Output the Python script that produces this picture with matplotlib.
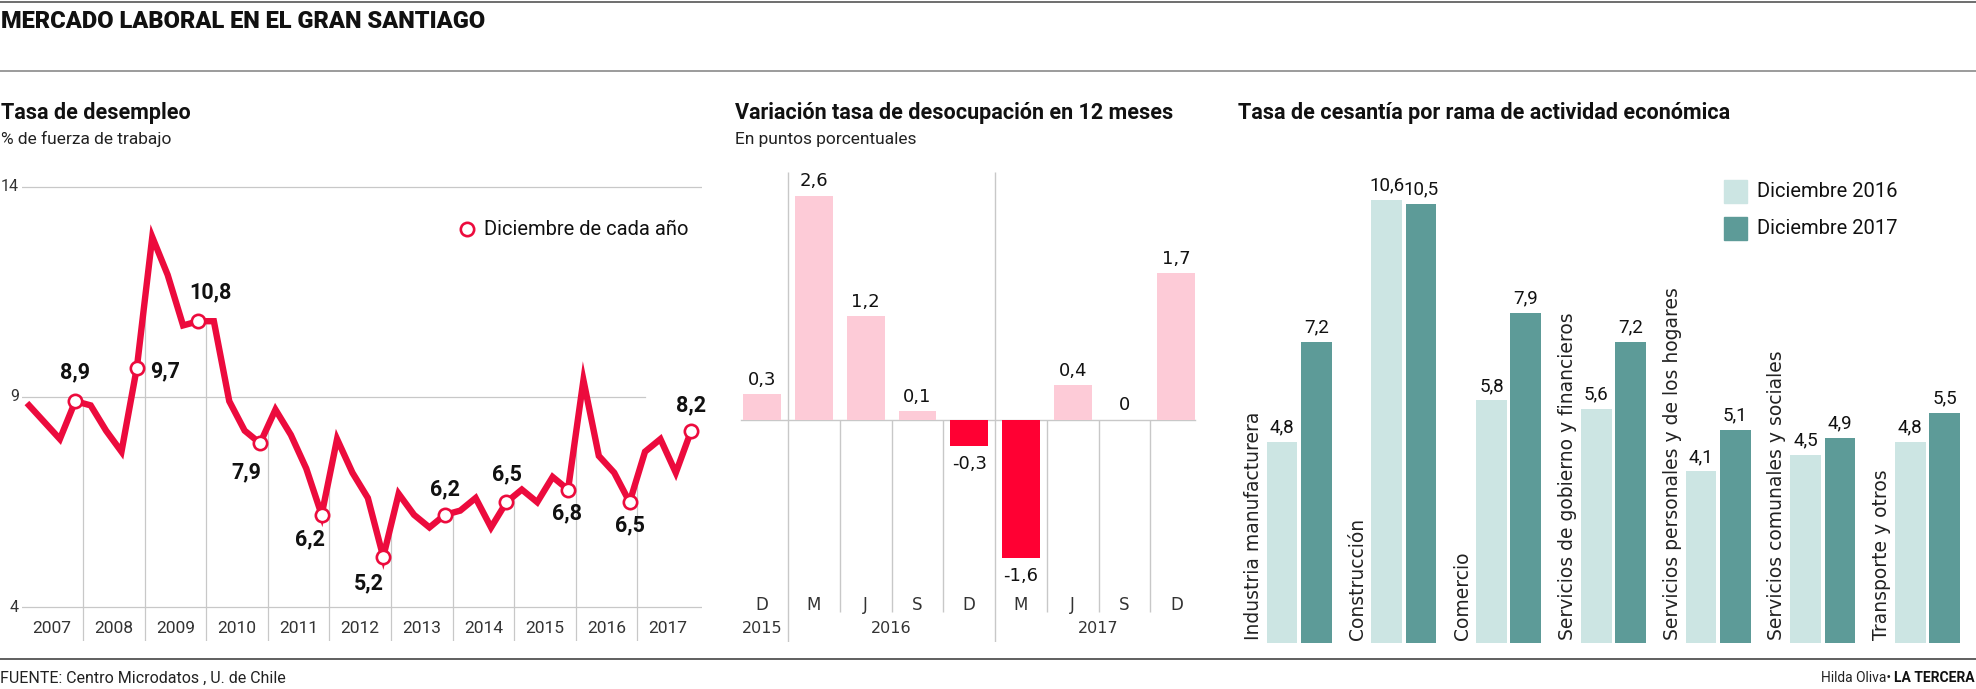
import numpy as np
import matplotlib as mpl
mpl.use('Agg')
import matplotlib.pyplot as plt
from matplotlib.lines import Line2D
from matplotlib.patches import Rectangle

plt.rcParams['font.family'] = ['Roboto', 'DejaVu Sans']

# --- data -------------------------------------------------------------
# tasa de desempleo, trimestres moviles (mar, jun, sep, dic) 2007-2017
desempleo = [8.8, 8.4, 8.0, 8.9, 8.8, 8.2, 7.7, 9.7, 12.8, 11.9, 10.7, 10.8,
             10.8, 8.9, 8.2, 7.9, 8.7, 8.1, 7.3, 6.2, 8.0, 7.2, 6.6, 5.2,
             6.7, 6.2, 5.9, 6.2, 6.3, 6.6, 5.9, 6.5, 6.8, 6.5, 7.1, 6.8,
             9.4, 7.6, 7.2, 6.5, 7.7, 8.0, 7.2, 8.2]
anios = ['2007', '2008', '2009', '2010', '2011', '2012',
         '2013', '2014', '2015', '2016', '2017']
y_ticks = [14, 9, 4]

variacion = [0.3, 2.6, 1.2, 0.1, -0.3, -1.6, 0.4, 0, 1.7]
var_meses = ['D', 'M', 'J', 'S', 'D', 'M', 'J', 'S', 'D']
var_anios = ['2015', '2016', '2017']
var_n_meses = [1, 4, 4]

ramas = ['Industria manufacturera', 'Construcción', 'Comercio',
         'Servicios de gobierno y financieros',
         'Servicios personales y de los hogares',
         'Servicios comunales y sociales', 'Transporte y otros']
dic2016 = [4.8, 10.6, 5.8, 5.6, 4.1, 4.5, 4.8]
dic2017 = [7.2, 10.5, 7.9, 7.2, 5.1, 4.9, 5.5]

# --- layout -----------------------------------------------------------
W, H = 1976, 689
RED = '#EC0B3D'
RED_BAR = '#FF0033'
PINK = '#FDCBD7'
TEAL_L = '#CCE5E3'
TEAL_D = '#5D9B98'
GRID = '#C8C8C8'
TXT = '#111111'

# label offsets (points) for the december values of the line chart
dec_offsets = [(0, 21, 'center'), (9.6, -3, 'left'), (8.6, 20.5, 'center'),
               (-10, -21, 'center'), (-8.3, -18, 'center'), (-10, -19, 'center'),
               (0, 18.5, 'center'), (0, 20.4, 'center'), (-1, -17.3, 'center'),
               (0, -16.8, 'center'), (0, 18, 'center')]


def fx(px):
    return px / W


def fy(py):
    return 1 - py / H


def coma(v):
    if v == 0:
        return '0'
    return f'{v:.1f}'.replace('.', ',')


fig = plt.figure(figsize=(W / 100, H / 100), dpi=100)

# rules
for py, col in [(1.5, '#555555'), (71, '#8a8a8a'), (658.5, '#444444')]:
    fig.add_artist(Line2D([0, 1], [fy(py), fy(py)], color=col, lw=1.2,
                          transform=fig.transFigure))

fig.text(fx(1), fy(21.7), 'MERCADO LABORAL EN EL GRAN SANTIAGO',
         fontsize=17, fontweight='black', color=TXT, va='center')

# panel headings
for px, title, sub in [(1, 'Tasa de desempleo', '% de fuerza de trabajo'),
                       (735, 'Variación tasa de desocupación en 12 meses',
                        'En puntos porcentuales'),
                       (1238, 'Tasa de cesantía por rama de actividad económica', None)]:
    fig.text(fx(px), fy(113.3), title, fontsize=15.5, fontweight='bold',
             color=TXT, va='center')
    if sub:
        fig.text(fx(px), fy(139.3), sub, fontsize=12.5, color='#222222',
                 va='center')

# --- chart 1: tasa de desempleo -------------------------------------------
ax1 = fig.add_axes([fx(22), fy(641.1), (702 - 22) / W, (641.1 - 178.1) / H])
x0, x1 = -0.46, 43.7
ymin = 3.2
ax1.set_xlim(x0, x1)
ax1.set_ylim(ymin, 14.2)
ax1.axis('off')

x = np.arange(len(desempleo))
y = np.array(desempleo)

for v in y_ticks:
    xe = 40 if v == 9 else x1
    ax1.plot([x0, xe], [v, v], color=GRID, lw=0.9, zorder=1)
    ax1.text(-0.66, v, str(v), ha='right', va='center', fontsize=11.5,
             color='#333333', clip_on=False)

bounds = np.arange(1, len(anios)) * 4 - 0.5
ax1.vlines(bounds, ymin, np.interp(bounds, x, y), color=GRID, lw=0.9, zorder=1)
for k, yr in enumerate(anios):
    ax1.text(4 * k + 1.5, 3.5, yr, ha='center', va='center', fontsize=12.5,
             color='#333333')

ax1.plot(x, y, color=RED, lw=4.6, solid_joinstyle='miter', zorder=3)
dec = x[3::4]
ax1.plot(dec, y[dec], 'o', ms=9.6, mfc='white', mec=RED, mew=1.9, zorder=4)
for i, (dx, dy, ha) in zip(dec, dec_offsets):
    ax1.annotate(coma(y[i]), (i, y[i]), xytext=(dx, dy),
                 textcoords='offset points', ha=ha, va='center',
                 fontsize=15.5, fontweight='bold', color=TXT, zorder=5)

fig.add_artist(Line2D([fx(466.5)], [fy(229.3)], marker='o', ms=9.6,
                      mfc='white', mec=RED, mew=1.9, transform=fig.transFigure))
fig.text(fx(484), fy(229.3), 'Diciembre de cada año', fontsize=14.5,
         color=TXT, va='center')

# --- chart 2: variacion 12 meses ------------------------------------------
ax2 = fig.add_axes([fx(736.3), fy(641.7), 465.9 / W, 470 / H])
ax2.set_xlim(-0.5, 8.5)
ax2.set_ylim(-2.569, 2.877)
ax2.axis('off')

xb = np.arange(len(variacion))
vals = np.array(variacion)
ax2.plot([-0.4, 8.36], [0, 0], color=GRID, lw=1, zorder=1)
ax2.bar(xb, vals, width=0.728, zorder=2,
        color=[PINK if v >= 0 else RED_BAR for v in vals])

starts = np.cumsum([0] + var_n_meses[:-1])
majors = starts[1:] - 0.5
minors = [b for b in xb[1:] - 0.5 if b not in majors]
ax2.vlines(majors, -2.569, 2.877, color=GRID, lw=1, zorder=1)
ax2.vlines(minors, -2.221, 0, color=GRID, lw=1, zorder=1)

for xi, v in zip(xb, vals):
    off = 10.5 if v >= 0 else -13
    ax2.annotate(coma(v), (xi, v), xytext=(0, off), textcoords='offset points',
                 ha='center', va='center', fontsize=13, color=TXT,
                 family='DejaVu Sans')
for xi, m in zip(xb, var_meses):
    ax2.text(xi, -2.144, m, ha='center', va='center', fontsize=12,
             color='#333333', family='DejaVu Sans')
for s, n, yr in zip(starts, var_n_meses, var_anios):
    ax2.text(s + (n - 1) / 2, -2.414, yr, ha='center', va='center',
             fontsize=11.5, color='#333333', family='DejaVu Sans')

# --- chart 3: cesantia por rama -------------------------------------------
ax3 = fig.add_axes([fx(1230), fy(642.7), 746 / W, (642.7 - 141.5) / H])
ax3.set_xlim(-0.661, 6.464)
ax3.set_ylim(0, 12)
ax3.axis('off')

g = np.arange(len(ramas))
off, bw = 0.1638, 0.2932
for bars in [ax3.bar(g - off, dic2016, bw, color=TEAL_L),
             ax3.bar(g + off, dic2017, bw, color=TEAL_D)]:
    for b in bars:
        h = b.get_height()
        ax3.annotate(coma(h), (b.get_x() + b.get_width() / 2, h),
                     xytext=(0, 10.5), textcoords='offset points',
                     ha='center', va='center', fontsize=13.5, color=TXT)
for gi, name in zip(g, ramas):
    ax3.text(gi - 0.4394, 0.07, name, rotation=90, ha='center', va='bottom',
             fontsize=13.5, color='#222222', family='DejaVu Sans')

for py, col, lab in [(191.7, TEAL_L, 'Diciembre 2016'),
                     (228.5, TEAL_D, 'Diciembre 2017')]:
    fig.add_artist(Rectangle((fx(1724), fy(py + 11.5)), 23 / W, 23 / H,
                             color=col, transform=fig.transFigure))
    fig.text(fx(1757), fy(py), lab, fontsize=14.5, color=TXT, va='center')

# --- footer -------------------------------------------------------------
fig.text(fx(0), fy(678), 'FUENTE: Centro Microdatos , U. de Chile',
         fontsize=11.5, color='#222222', va='center')
brand = fig.text(fx(1975), fy(678), 'LA TERCERA', fontsize=10,
                 fontweight='bold', color=TXT, ha='right', va='center')
ax3.annotate('Hilda Oliva•', xy=(0, 0.5), xycoords=brand, xytext=(-2, 0),
             textcoords='offset points', ha='right', va='center',
             fontsize=10, color='#222222', annotation_clip=False)

fig.savefig('out.png', dpi=100)
